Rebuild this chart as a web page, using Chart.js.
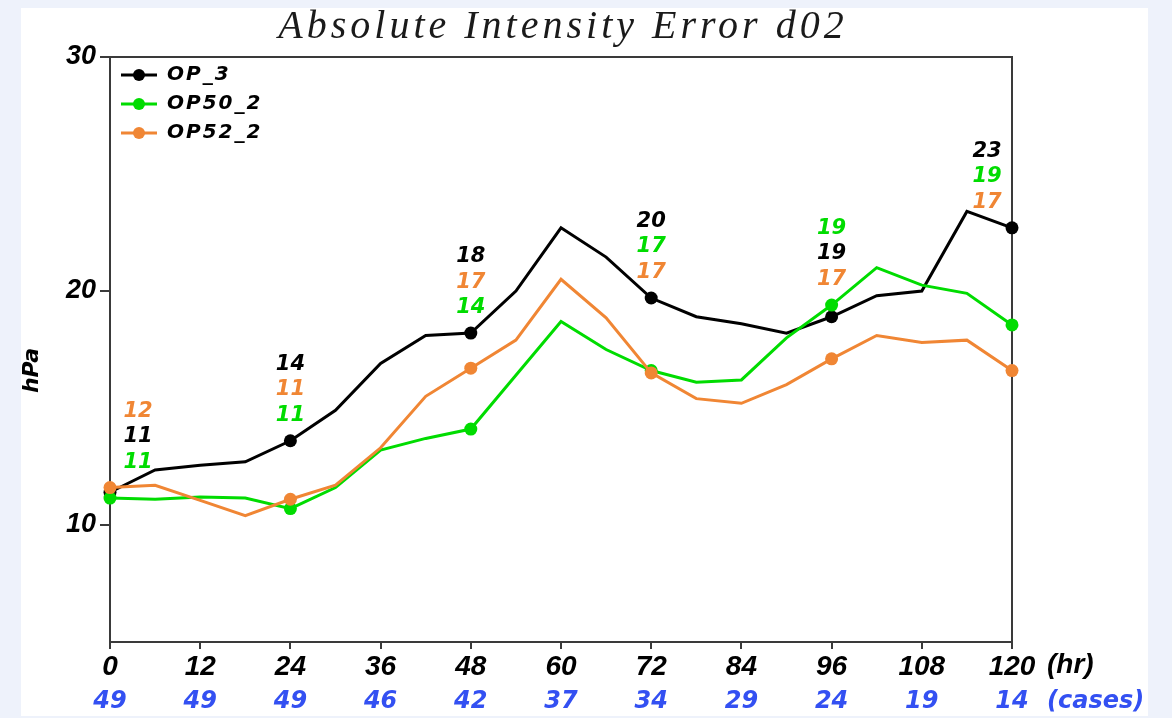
<!DOCTYPE html>
<html>
<head>
<meta charset="utf-8">
<title>Absolute Intensity Error d02</title>
<script src="https://cdn.jsdelivr.net/npm/chart.js@4.4.1/dist/chart.umd.min.js"></script>
<style>
  html, body { margin: 0; padding: 0; width: 1172px; height: 718px; overflow: hidden; background: #eef2fb; }
  #panel { position: absolute; left: 21px; top: 8px; width: 1127px; height: 708px; background: #ffffff; }
  #wrap { position: absolute; left: 0; top: 0; width: 1172px; height: 718px; }
</style>
</head>
<body>
<div id="panel"></div>
<div id="wrap"><canvas id="chart" width="1172" height="718"></canvas></div>
<script>
// Forecast lead times (hr) and the verification sample size at each 12-hr tick
const hours = [0, 6, 12, 18, 24, 30, 36, 42, 48, 54, 60, 66, 72, 78, 84, 90, 96, 102, 108, 114, 120];
const tickHours = [0, 12, 24, 36, 48, 60, 72, 84, 96, 108, 120];
const caseCounts = [49, 49, 49, 46, 42, 37, 34, 29, 24, 19, 14];
const yTickValues = [10, 20, 30];

// Absolute intensity error (hPa) for each configuration
const op3   = [11.4, 12.35, 12.55, 12.7, 13.6, 14.9, 16.9, 18.1, 18.2, 20.0, 22.7, 21.45, 19.7, 18.9, 18.6, 18.2, 18.9, 19.8, 20.0, 23.4, 22.7];
const op50  = [11.15, 11.1, 11.2, 11.15, 10.7, 11.6, 13.2, 13.7, 14.1, 16.4, 18.7, 17.5, 16.6, 16.1, 16.2, 18.0, 19.4, 21.0, 20.25, 19.9, 18.55];
const op52  = [11.6, 11.7, 11.05, 10.4, 11.1, 11.7, 13.3, 15.5, 16.7, 17.9, 20.5, 18.85, 16.5, 15.4, 15.2, 16.0, 17.1, 18.1, 17.8, 17.9, 16.6];

const seriesNames = ['OP_3', 'OP50_2', 'OP52_2'];
const seriesColors = ['#000000', '#00dc00', '#f08634'];
const seriesValues = [op3, op50, op52];

const markerEvery = 4; // a marker every 24 hr
const frameColor = '#3a3a3a';
const casesColor = '#3350f2';

function toPoints(vals) {
  return vals.map((v, i) => ({ x: hours[i], y: v }));
}

const datasets = seriesValues.map((vals, s) => ({
  label: seriesNames[s],
  data: toPoints(vals),
  borderColor: seriesColors[s],
  backgroundColor: seriesColors[s],
  pointBackgroundColor: seriesColors[s],
  pointBorderWidth: 0,
  pointRadius: ctx => (ctx.index % markerEvery === 0 ? 6.5 : 0),
  pointHoverRadius: ctx => (ctx.index % markerEvery === 0 ? 6.5 : 0),
  borderWidth: 3,
  tension: 0,
  clip: false,
  order: 2 - s
}));

// Frame around the plot, drawn beneath the series
const framePlugin = {
  id: 'frame',
  beforeDatasetsDraw(chart) {
    const { ctx, chartArea: a } = chart;
    ctx.save();
    ctx.strokeStyle = frameColor;
    ctx.lineWidth = 2;
    ctx.strokeRect(a.left, a.top, a.right - a.left, a.bottom - a.top);
    ctx.restore();
  }
};

// Title, axis captions, legend, case counts and value labels
const annotatePlugin = {
  id: 'annotate',
  afterDraw(chart) {
    const { ctx, chartArea: a } = chart;
    const xs = chart.scales.x, ys = chart.scales.y;
    ctx.save();

    // title
    ctx.save();
    ctx.fillStyle = '#1a1a1a';
    ctx.font = 'italic 40px "Liberation Serif"';
    ctx.letterSpacing = '4px';
    ctx.textAlign = 'center';
    ctx.textBaseline = 'alphabetic';
    ctx.fillText('Absolute Intensity Error d02', (a.left + a.right) / 2 + 2, 38);
    ctx.restore();

    // y-axis caption
    ctx.save();
    ctx.fillStyle = '#000';
    ctx.font = 'bold italic 22px "DejaVu Sans"';
    ctx.textAlign = 'center';
    ctx.textBaseline = 'middle';
    ctx.translate(32, (a.top + a.bottom) / 2 + 21);
    ctx.rotate(-Math.PI / 2);
    ctx.fillText('hPa', 0, 0);
    ctx.restore();

    // legend
    ctx.save();
    ctx.font = 'bold italic 20px "DejaVu Sans"';
    ctx.letterSpacing = '2px';
    ctx.textAlign = 'left';
    ctx.textBaseline = 'middle';
    seriesNames.forEach((name, s) => {
      const y = a.top + 18 + s * 29;
      ctx.strokeStyle = seriesColors[s];
      ctx.fillStyle = seriesColors[s];
      ctx.lineWidth = 3;
      ctx.beginPath();
      ctx.moveTo(a.left + 11, y);
      ctx.lineTo(a.left + 47, y);
      ctx.stroke();
      ctx.beginPath();
      ctx.arc(a.left + 29, y, 6, 0, Math.PI * 2);
      ctx.fill();
      ctx.fillStyle = '#000';
      ctx.fillText(name, a.left + 57, y);
    });
    ctx.restore();

    // "(hr)" unit after the last hour tick
    ctx.fillStyle = '#000';
    ctx.font = 'bold italic 28px "Liberation Sans"';
    ctx.textAlign = 'left';
    ctx.textBaseline = 'middle';
    ctx.fillText('(hr)', xs.getPixelForValue(120) + 35, 665);

    // number of cases under each tick
    ctx.fillStyle = casesColor;
    ctx.font = 'bold italic 24px "DejaVu Sans"';
    ctx.textAlign = 'center';
    tickHours.forEach((h, j) => {
      ctx.fillText(String(caseCounts[j]), xs.getPixelForValue(h), 702);
    });
    ctx.textAlign = 'left';
    ctx.fillText('(cases)', xs.getPixelForValue(120) + 35, 702);

    // rounded values stacked above the highest marker at each 24-hr point
    ctx.font = 'bold italic 21px "DejaVu Sans"';
    ctx.textAlign = 'center';
    ctx.textBaseline = 'middle';
    for (let i = 0; i < hours.length; i += markerEvery) {
      const entries = seriesValues.map((vals, s) => ({ v: vals[i], c: seriesColors[s] }));
      entries.sort((p, q) => p.v - q.v);
      const topY = ys.getPixelForValue(entries[entries.length - 1].v);
      let x = xs.getPixelForValue(hours[i]);
      x = Math.min(Math.max(x, a.left + 28), a.right - 25);
      entries.forEach((e, k) => {
        ctx.fillStyle = e.c;
        ctx.fillText(String(Math.round(e.v)), x, topY - 25.5 - k * 25.5);
      });
    }
    ctx.restore();
  }
};

new Chart(document.getElementById('chart'), {
  type: 'line',
  data: { datasets },
  options: {
    responsive: false,
    animation: false,
    devicePixelRatio: 1,
    layout: { padding: { top: 57, left: 0, right: 160, bottom: 0 } },
    plugins: {
      legend: { display: false },
      title: { display: false },
      tooltip: { enabled: false }
    },
    scales: {
      x: {
        type: 'linear',
        min: 0,
        max: 120,
        afterBuildTicks: scale => { scale.ticks = tickHours.map(v => ({ value: v })); },
        afterFit: scale => { scale.height = 76; },
        border: { display: false },
        grid: { drawOnChartArea: false, drawTicks: true, tickLength: 7, color: frameColor, lineWidth: 2 },
        ticks: {
          autoSkip: false,
          maxRotation: 0,
          color: '#000',
          padding: 1,
          font: { family: 'Liberation Sans', size: 28, weight: 'bold', style: 'italic' }
        }
      },
      y: {
        min: 5,
        max: 30,
        afterBuildTicks: scale => { scale.ticks = yTickValues.map(v => ({ value: v })); },
        afterFit: scale => { scale.width = 110; },
        border: { display: false },
        grid: { drawOnChartArea: false, drawTicks: true, tickLength: 10, color: frameColor, lineWidth: 2 },
        ticks: {
          color: '#000',
          padding: 4,
          font: { family: 'Liberation Sans', size: 27, weight: 'bold', style: 'italic' }
        }
      }
    }
  },
  plugins: [framePlugin, annotatePlugin]
});
</script>
</body>
</html>
